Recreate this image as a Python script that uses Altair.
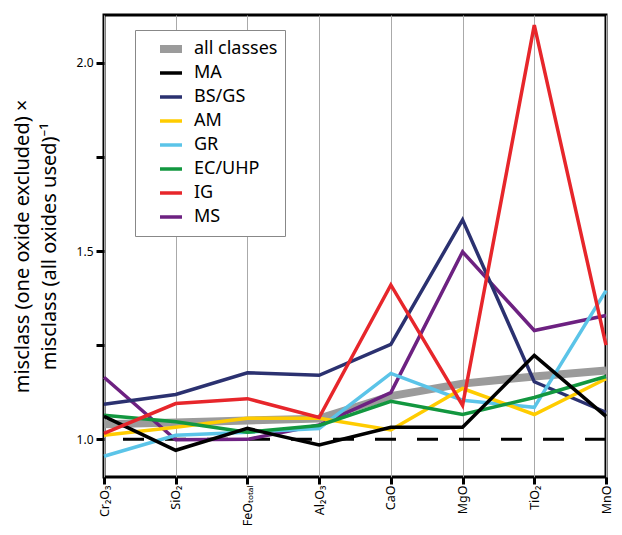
import altair as alt
import pandas as pd

oxides = ["Cr₂O₃", "SiO₂", "FeOₜₒₜₐₗ", "Al₂O₃", "CaO", "MgO", "TiO₂", "MnO"]

series_names = ["all classes", "MA", "BS/GS", "AM", "GR", "EC/UHP", "IG", "MS"]
series_colors = ["#9b9b9b", "#000000", "#2b3170", "#ffcc00", "#5bc4e8", "#12973f", "#e7262b", "#6d2181"]
series_widths = [8, 3.5, 3.5, 3.5, 3.5, 3.5, 3.5, 3.5]

all_classes = [1.04, 1.045, 1.05, 1.055, 1.115, 1.148, 1.167, 1.183]
ma = [1.061, 0.971, 1.029, 0.985, 1.032, 1.032, 1.223, 1.061]
bs_gs = [1.093, 1.119, 1.177, 1.170, 1.252, 1.583, 1.153, 1.072]
am = [1.011, 1.032, 1.056, 1.056, 1.025, 1.135, 1.066, 1.161]
gr = [0.955, 1.011, 1.019, 1.029, 1.175, 1.104, 1.085, 1.395]
ec_uhp = [1.064, 1.047, 1.019, 1.037, 1.101, 1.066, 1.111, 1.167]
ig = [1.016, 1.095, 1.108, 1.058, 1.410, 1.090, 2.100, 1.250]
ms = [1.165, 0.999, 1.000, 1.038, 1.124, 1.498, 1.289, 1.329]

values = {
    "all classes": all_classes, "MA": ma, "BS/GS": bs_gs, "AM": am,
    "GR": gr, "EC/UHP": ec_uhp, "IG": ig, "MS": ms,
}
draw_order = ["all classes", "MS", "BS/GS", "GR", "AM", "EC/UHP", "MA", "IG"]

rows = []
for i, s in enumerate(draw_order):
    for o, v in zip(oxides, values[s]):
        rows.append({"oxide": o, "value": v, "series": s, "z": i})
df = pd.DataFrame(rows)

baseline = pd.DataFrame({"y": [1.0]})

FONT = "Noto Sans"

x = alt.X("oxide:N", sort=oxides, scale=alt.Scale(padding=0),
          axis=alt.Axis(title=None, labelAngle=270, labelAlign="right", labelBaseline="middle",
                        labelFontSize=12.5, labelFont=FONT, labelColor="black", labelPadding=1,
                        tickColor="black", tickWidth=3, tickSize=7, domain=False,
                        grid=True, gridColor="#aaaaaa", gridWidth=1))
y = alt.Y("value:Q", scale=alt.Scale(domain=[0.9, 2.127], nice=False, zero=False),
          axis=alt.Axis(title=["misclass (one oxide excluded) ×", "misclass (all oxides used)⁻¹"],
                        titleFontSize=20, titleFont=FONT, titleFontWeight="normal", titleColor="black",
                        titleLineHeight=27, titlePadding=17,
                        values=[1.0, 1.25, 1.5, 1.75, 2.0],
                        labelExpr="datum.value % 0.5 == 0 ? format(datum.value, '.1f') : ''",
                        labelFontSize=12, labelFont=FONT, labelColor="black", labelPadding=3,
                        tickColor="black", tickWidth=3, tickSize=8, domain=False, grid=False))

legend = alt.Legend(title=None, orient="none", legendX=31, legendY=15,
                    symbolType="stroke", symbolSize=484, symbolOffset=14,
                    labelFontSize=18, labelFont=FONT,
                    labelColor="black", labelOffset=8, rowPadding=0, clipHeight=24, padding=7,
                    strokeColor="#888888", fillColor="white")

lines = alt.Chart(df).mark_line(strokeCap="butt", strokeJoin="miter").encode(
    x=x,
    y=y,
    color=alt.Color("series:N", scale=alt.Scale(domain=series_names, range=series_colors), legend=legend),
    strokeWidth=alt.StrokeWidth("series:N", scale=alt.Scale(type="ordinal", domain=series_names, range=series_widths), legend=legend),
    order=alt.Order("z:Q"),
)

rule = alt.Chart(baseline).mark_rule(color="black", strokeWidth=3, strokeDash=[21, 21]).encode(
    y=alt.Y("y:Q")
)

chart = alt.layer(rule, lines).properties(
    width=502, height=462,
    autosize=alt.AutoSizeParams(type="none"),
    padding={"left": 96, "top": 7, "right": 8, "bottom": 50},
).configure_view(stroke="black", strokeWidth=3)

chart.save("out.html", embed_options={"renderer": "svg", "actions": False})
